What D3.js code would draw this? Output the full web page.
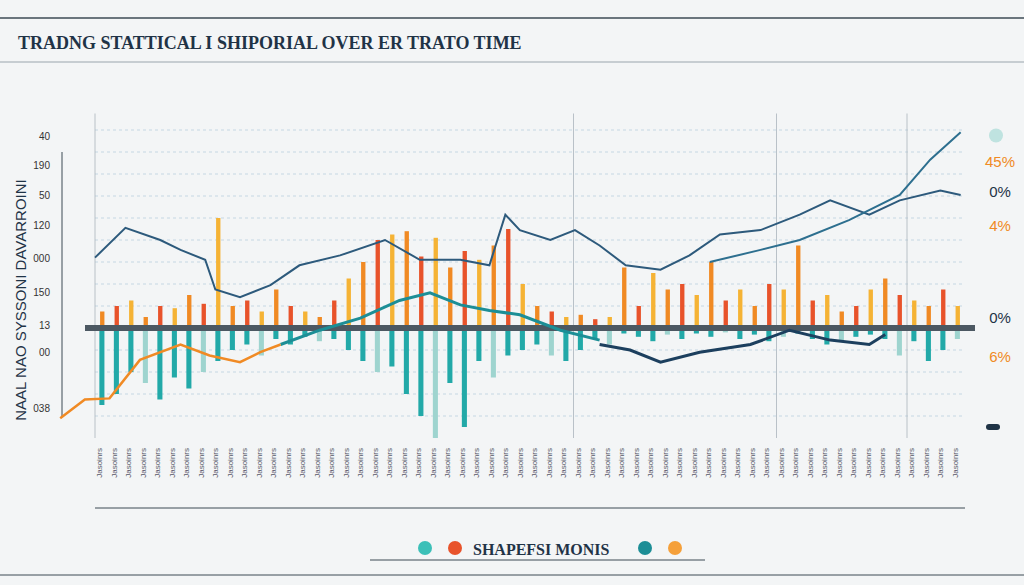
<!DOCTYPE html>
<html><head><meta charset="utf-8">
<script src="https://cdn.jsdelivr.net/npm/d3@7"></script>
<style>body{margin:0;background:#f3f5f6;font-family:"Liberation Sans",Arial,sans-serif}</style>
</head><body><svg id="c" width="1024" height="585"></svg>
<script>
const title = "TRADNG STATTICAL I SHIPORIAL OVER ER TRATO TIME";
const leftTickLabels = ["40","190","50","120","000","150","13","00","038"];
const leftTickValues = [175,148,121,94,64,33,3,-22,-73];
const rightTicks = ["45%","0%","4%","0%","6%"];
const rightTickValues = [152,125,94,10,-25];
const posVals = [15,20,25,10,20,18,30,22,100,20,25,15,35,20,15,10,25,45,60,80,85,88,65,82,55,70,62,75,90,40,20,15,10,12,8,10,55,20,50,35,40,30,60,25,35,20,40,35,75,25,30,15,20,35,45,30,25,20,35,20];
const negVals = [-70,-60,-40,-50,-65,-45,-55,-40,-30,-20,-15,-25,-10,-15,-8,-12,-10,-20,-30,-40,-35,-60,-80,-100,-50,-90,-30,-45,-25,-20,-15,-25,-30,-20,-10,-15,-5,-8,-12,-6,-10,-5,-8,-4,-10,-6,-12,-8,-5,-10,-15,-12,-8,-6,-10,-25,-12,-30,-20,-10];
const posColors = ["#f08a24","#e8532b","#f5b335"];
const lineA = [[0,64],[2.1,91],[4.5,80],[5.9,71],[7.6,62],[8.3,35],[10,28],[12.1,39],[14.1,57],[16.9,66],[20,80],[22.4,62],[25.2,62],[27.2,57],[28.3,103],[29.3,89],[31.4,80],[33.1,89],[34.8,75],[36.6,57],[39,53],[41,66],[43.1,85],[45.9,89],[48.6,103],[50.7,116],[53.4,103],[55.5,116],[58.3,125],[59.7,121]];
const lineB = [[42.4,60],[45.9,71],[48.6,80],[52,98],[55.5,121],[57.6,153],[59.7,178]];
const lineTeal = [[12.8,-15],[15.5,-2],[18.3,9],[21,25],[23.1,32],[25.2,21],[27.2,16],[29.3,12],[32.1,-2],[34.8,-11]];
const lineNavy = [[34.8,-15],[36.9,-20],[39,-31],[41.7,-22],[45.2,-15],[47.9,-2],[50.7,-11],[53.4,-15],[54.5,-6]];
const lineOrange = [[-2.4,-82],[-0.7,-65],[1,-64],[3.1,-29],[5.9,-15],[7.9,-25],[10,-31],[11.4,-22],[12.8,-15]];
const legendLabel = "SHAPEFSI MONIS";

const svg = d3.select("#c");
const x = d3.scaleLinear().domain([0,60]).range([95,965]);
const y = d3.scaleLinear().domain([-100,200]).range([438,108]);
const slot = x(1)-x(0);

svg.append("line").attr("x1",0).attr("x2",1024).attr("y1",18).attr("y2",18).attr("stroke","#3d4a55").attr("stroke-width",1.5);
svg.append("line").attr("x1",0).attr("x2",1024).attr("y1",62).attr("y2",62).attr("stroke","#9aa5ad");
svg.append("text").attr("x",18).attr("y",49).attr("font-size",18).attr("font-weight","bold").attr("fill","#1f3346").attr("font-family","Liberation Serif, serif").text(title);

d3.range(-80,200,20).forEach(v=>svg.append("line").attr("x1",95).attr("x2",965).attr("y1",y(v)).attr("y2",y(v)).attr("stroke","#b9cfe0").attr("stroke-dasharray","3,3").attr("stroke-width",0.8));
[0,33,47,56].forEach(t=>svg.append("line").attr("x1",x(t)).attr("x2",x(t)).attr("y1",y(195)).attr("y2",y(-100)).attr("stroke","#aab4bd").attr("stroke-width",0.8));

svg.append("line").attr("x1",62).attr("x2",62).attr("y1",y(160)).attr("y2",y(-80)).attr("stroke","#3d4a55");
leftTickValues.forEach((v,i)=>svg.append("text").attr("x",50).attr("y",y(v)+4).attr("text-anchor","end").attr("font-size",10).attr("fill","#333").text(leftTickLabels[i]));
svg.append("text").attr("transform","translate(26,300) rotate(-90)").attr("text-anchor","middle").attr("font-size",15).attr("fill","#1f3346").text("NAAL NAO SYSSONI DAVARROINI");
rightTickValues.forEach((v,i)=>svg.append("text").attr("x",1000).attr("y",y(v)+6).attr("text-anchor","middle").attr("font-size",15).attr("fill",i%2?"#1f3346":"#f08a24").text(rightTicks[i]));
svg.append("circle").attr("cx",996).attr("cy",y(175)).attr("r",7).attr("fill","#bfe3e0");
svg.append("rect").attr("x",986).attr("y",424).attr("width",14).attr("height",6).attr("rx",3).attr("fill","#1f3346");

const g = svg.append("g");
g.selectAll(".p").data(posVals).join("rect").attr("x",(d,i)=>x(i)+slot*0.35).attr("width",slot*0.3)
 .attr("y",d=>y(d)).attr("height",d=>y(0)-y(d)).attr("fill",(d,i)=>posColors[i%3]);
g.selectAll(".n").data(negVals).join("rect").attr("x",(d,i)=>x(i)+slot*0.3).attr("width",slot*0.35)
 .attr("y",y(0)).attr("height",d=>y(d)-y(0)).attr("fill",(d,i)=>i%4==3?"#9ed4cf":"#22a9a8");

svg.append("rect").attr("x",85).attr("y",y(0)-3).attr("width",890).attr("height",6).attr("fill","#4c5862");

const ln = d3.line().x(d=>x(d[0])).y(d=>y(d[1]));
svg.append("path").datum(lineA).attr("d",ln).attr("fill","none").attr("stroke","#2d5a7c").attr("stroke-width",2);
svg.append("path").datum(lineB).attr("d",ln).attr("fill","none").attr("stroke","#2d6f8f").attr("stroke-width",2);
svg.append("path").datum(lineTeal).attr("d",ln).attr("fill","none").attr("stroke","#1c8e96").attr("stroke-width",3);
svg.append("path").datum(lineNavy).attr("d",ln).attr("fill","none").attr("stroke","#1c3f5e").attr("stroke-width",3);
svg.append("path").datum(lineOrange).attr("d",ln).attr("fill","none").attr("stroke","#f08a24").attr("stroke-width",2.5);

posVals.forEach((d,i)=>svg.append("text").attr("transform",`translate(${x(i)+slot/2},448) rotate(-90)`).attr("text-anchor","end").attr("font-size",8).attr("fill","#556").text("Jasoinrs"));
svg.append("line").attr("x1",95).attr("x2",965).attr("y1",508).attr("y2",508).attr("stroke","#3d4a55");
svg.append("line").attr("x1",0).attr("x2",1024).attr("y1",575).attr("y2",575).attr("stroke","#3d4a55");

svg.append("line").attr("x1",370).attr("x2",705).attr("y1",560).attr("y2",560).attr("stroke","#3d4a55");
[[425,"#3cc0b8"],[455,"#e8532b"],[645,"#1c8e96"],[675,"#f5a03a"]].forEach(c=>svg.append("circle").attr("cx",c[0]).attr("cy",548).attr("r",7).attr("fill",c[1]));
svg.append("text").attr("x",473).attr("y",555).attr("font-size",16).attr("font-weight","bold").attr("fill","#1f3346").attr("font-family","Liberation Serif, serif").text(legendLabel);
</script></body></html>
